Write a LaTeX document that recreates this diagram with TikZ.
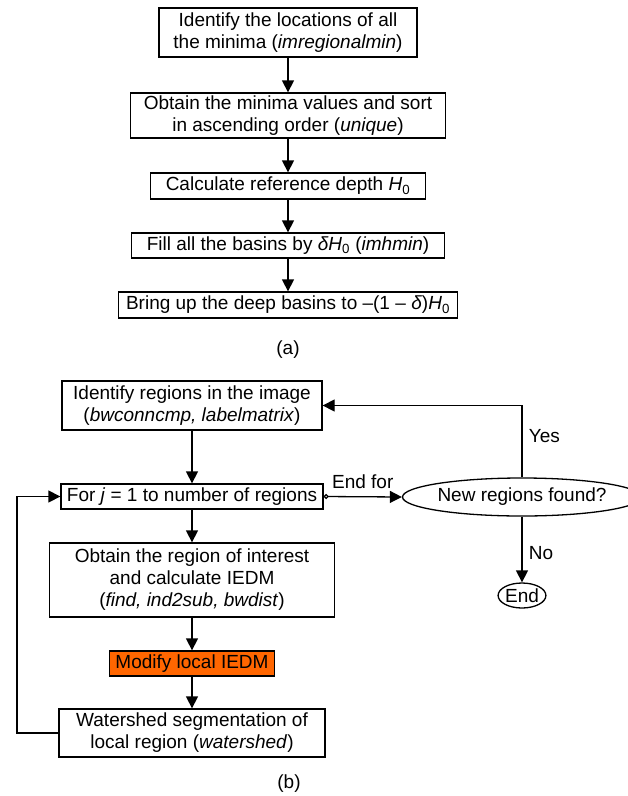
\documentclass[tikz,border=0pt]{standalone}
\usepackage{fontspec}
\setmainfont{Liberation Sans}
\usetikzlibrary{arrows.meta}
\usetikzlibrary{shapes.geometric}
\definecolor{iedmorange}{RGB}{255,102,0}

\begin{document}
\begin{tikzpicture}[x=1pt,y=-1pt,
  box/.style={draw,black,line width=1.3pt,inner sep=0pt,align=center,font=\fontsize{19}{22}\selectfont},
  oval/.style={box,ellipse},
  lbl/.style={font=\fontsize{19}{22}\selectfont},
  flow/.style={line width=1.3pt,-{Triangle[length=12pt,width=12pt]}}]
\useasboundingbox (0,0) rectangle (628,796);
% (a) reference depth
\node[box,minimum width=258,minimum height=49] (locmin) at (288,32.5) {Identify the locations of all\\the minima (\textit{imregionalmin})};
\node[box,minimum width=315,minimum height=45] (sortmin) at (288,115.5) {Obtain the minima values and sort\\in ascending order (\textit{unique})};
\node[box,minimum width=275,minimum height=26] (refdepth) at (288,186) {Calculate reference depth \textit{H}\textsubscript{0}};
\node[box,minimum width=313,minimum height=25] (fillbas) at (288,245.5) {Fill all the basins by \textit{δH}\textsubscript{0} (\textit{imhmin})};
\node[box,minimum width=339,minimum height=26] (deepbas) at (288,305) {Bring up the deep basins to –(1 – \textit{δ})\textit{H}\textsubscript{0}};
\node[lbl] (capa) at (288,350) {(a)};
\draw[flow] (locmin) -- (sortmin);
\draw[flow] (sortmin) -- (refdepth);
\draw[flow] (refdepth) -- (fillbas);
\draw[flow] (fillbas) -- (deepbas);
% (b) region loop
\node[box,minimum width=260,minimum height=49] (idreg) at (192,405.5) {Identify regions in the image\\(\textit{bwconncmp, labelmatrix})};
\node[box,minimum width=262,minimum height=25] (forj) at (192,496.5) {For \textit{j} = 1 to number of regions};
\node[oval,minimum width=202,minimum height=38] (newreg) at (522,497) {New regions found?};
\node[oval,minimum width=47,minimum height=25] (fin) at (522,595.5) {End};
\node[box,minimum width=285,minimum height=74] (roi) at (192,580) {Obtain the region of interest\\and calculate IEDM\\(\textit{find, ind2sub, bwdist})};
\node[box,fill=iedmorange,minimum width=165,minimum height=25] (modif) at (192,663.5) {Modify local IEDM};
\node[box,minimum width=266,minimum height=48] (wshed) at (192,733) {Watershed segmentation of\\local region (\textit{watershed})};
\node[lbl] (capb) at (289,784) {(b)};
\coordinate (loopc) at (17,733);
\draw[flow] (idreg) -- (forj);
\draw[flow] (forj) -- (roi);
\draw[flow] (roi) -- (modif);
\draw[flow] (modif) -- (wshed);
\draw[flow] (wshed.west) -- (loopc) |- (forj.west);
\draw[flow,{Circle[open,length=5pt]}-{Triangle[length=12pt,width=12pt]}] (forj.east) -- (newreg.west) node[lbl,above,midway,yshift=4pt] {End for};
\draw[flow] (newreg.north) |- (idreg.east) node[lbl,right,pos=0.29,xshift=3] {Yes};
\draw[flow] (newreg.south) -- (fin.north) node[lbl,right,pos=0.55,xshift=3] {No};
\end{tikzpicture}
\end{document}
